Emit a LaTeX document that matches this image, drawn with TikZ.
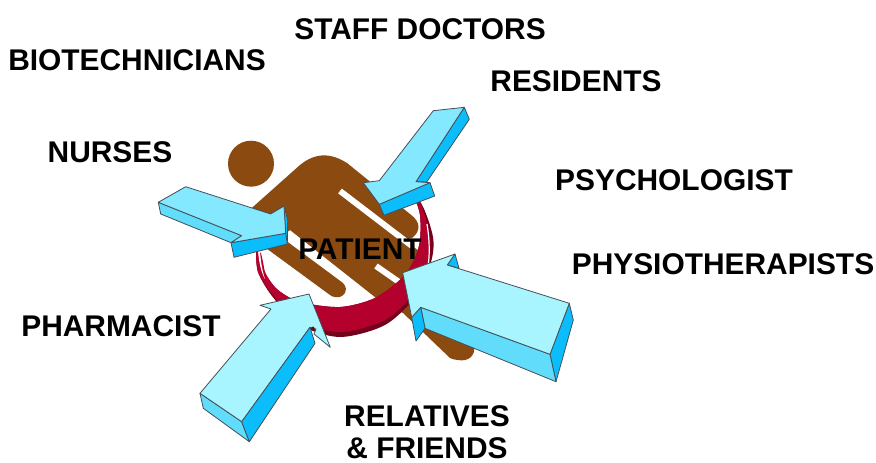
\documentclass[tikz,border=0pt]{standalone}
\usepackage{fontspec}
\setmainfont{Liberation Sans}
\definecolor{brownbody}{HTML}{8B4A0F}
\definecolor{crimson}{HTML}{B3002D}
\definecolor{maroon}{HTML}{75001C}
\definecolor{litea}{HTML}{A8F5FF}
\definecolor{liteb}{HTML}{84E8FF}
\definecolor{midc}{HTML}{62DCFB}
\definecolor{sidec}{HTML}{0CBDFB}
\tikzset{
  label/.style={font=\bfseries\fontsize{29.9}{35}\selectfont,text=black,inner sep=0pt,align=center},
  face/.style={draw=black!75!cyan,line width=0.8pt,line join=round},
}
\begin{document}
\begin{tikzpicture}[x=1pt,y=-1pt]
\useasboundingbox (0,0) rectangle (876,463);
% person
\fill[brownbody] (251,163.7) circle (23);
\fill[brownbody]
  (245,214) -- (300,165) .. controls (316,152) and (331,153) .. (347,163)
  -- (410,214) .. controls (421,222) and (421,231) .. (412,238)
  -- (404,240) -- (412,246) -- (425,255) -- (474,345)
  .. controls (476,356) and (468,362) .. (458,360) .. controls (455,360) and (452,359) .. (450,358)
  -- (403,313) -- (385,305) -- (290,230) -- (281,237) -- (343,283)
  .. controls (350,290) and (343,299) .. (335,297) .. controls (333,297) and (331,296) .. (330,295)
  -- (255,240) -- cycle;
\draw[white,line width=6pt] (340,191) -- (412,246);
\draw[white,line width=6pt] (376,266) -- (399,282);
% crescent
\fill[maroon] plot[smooth] coordinates {(256,250) (258,272) (272,296) (300,325) (340,337) (385,325) (417,295) (431,262) (433,237) (421,203) (400,182)}
  -- plot[smooth] coordinates {(400,182) (414,198) (420,215) (420,240) (415,258) (403,277) (375,298) (340,307) (300,302) (278,290) (265,275) (256,250)} -- cycle;
\fill[crimson] plot[smooth] coordinates {(256,250) (258,272) (272,294) (300,321) (340,332) (385,320) (415,292) (428,262) (430,237) (420,203) (400,182)}
  -- plot[smooth] coordinates {(400,182) (414,198) (420,215) (420,240) (415,258) (403,277) (375,298) (340,307) (300,302) (278,290) (266,274) (263,262) (261,253)} -- cycle;
\fill[white] (258,251) .. controls (259,262) and (261,272) .. (265,279) .. controls (262,270) and (261,262) .. (260,252) -- cycle;
\draw[white,line width=1.2pt] (427,224) .. controls (429,236) and (430,250) .. (428.5,263);
% nurses arrow
\draw[face,fill=midc] (158.3,202.3) -- (160.7,214) -- (231,242.7) -- (241.7,235.7) -- cycle;
\draw[face,fill=sidec] (284,206) -- (287.7,220) -- (287.3,244) -- (285.7,233.3) -- cycle;
\draw[face,fill=sidec] (231,242.7) -- (285.7,233.3) -- (287.3,244) -- (234,257.3) -- cycle;
\draw[face,fill=liteb] (158.3,202.3) -- (185.7,186.7) -- (270.7,214) -- (284,206) -- (285.7,233.3) -- (231,242.7) -- (241.7,235.7) -- cycle;
% residents arrow
\draw[face,fill=sidec] (464.3,107.3) -- (469.3,119.3) -- (426.7,182) -- (416,181.7) -- cycle;
\draw[face,fill=sidec] (379.3,204.3) -- (430,182.7) -- (434.7,196) -- (384,215.3) -- cycle;
\draw[face,fill=liteb] (433.3,110.7) -- (464.3,107.3) -- (416,181.7) -- (430,182.7) -- (379.3,204.3) -- (363.3,182.7) -- (379.3,180.7) -- cycle;
% physiotherapists arrow
\draw[face,fill=sidec] (447.3,265) -- (455,254) -- (459,268.3) -- cycle;
\draw[face,fill=sidec] (569.3,303.3) -- (573.3,320) -- (556,381.7) -- (550,354.3) -- cycle;
\draw[face,fill=midc] (420.7,307.3) -- (550,354.3) -- (556,381.7) -- (425,328.3) -- cycle;
\draw[face,fill=sidec] (420.7,307.3) -- (425,328.3) -- (416,341) -- (411.7,317.3) -- cycle;
\draw[face,fill=litea] (402.7,272.7) -- (455,254) -- (447.3,265) -- (569.3,303.3) -- (550,354.3) -- (420.7,307.3) -- (411.7,317.3) -- cycle;
% pharmacist arrow
\draw[face,fill=midc] (200,393.3) -- (241.7,421.7) -- (249.3,441.7) -- (203.3,408.3) -- cycle;
\draw[face,fill=litea] (200,393.3) -- (271,309) -- (260,305.3) -- (309,294) -- (330.3,347.3) -- (314,334) -- (316,329) -- (310,327.3) -- (241.7,421.7) -- cycle;
\draw[face,fill=sidec] (310,327.3) -- (315,343.3) -- (249.3,441.7) -- (241.7,421.7) -- cycle;
\fill[maroon] (313,328) circle (1.6);
% labels
\node[label] (staff) at (420,29) {STAFF DOCTORS};
\node[label] (bio) at (137,60) {BIOTECHNICIANS};
\node[label] (res) at (576,81) {RESIDENTS};
\node[label] (nur) at (110,152) {NURSES};
\node[label] (psy) at (674,180) {PSYCHOLOGIST};
\node[label] (phy) at (723,264) {PHYSIOTHERAPISTS};
\node[label] (pat) at (360,249) {PATIENT};
\node[label] (pha) at (121,326) {PHARMACIST};
\node[label] (rel) at (427,416) {RELATIVES};
\node[label] (fri) at (427,448.5) {\& FRIENDS};
\end{tikzpicture}
\end{document}
